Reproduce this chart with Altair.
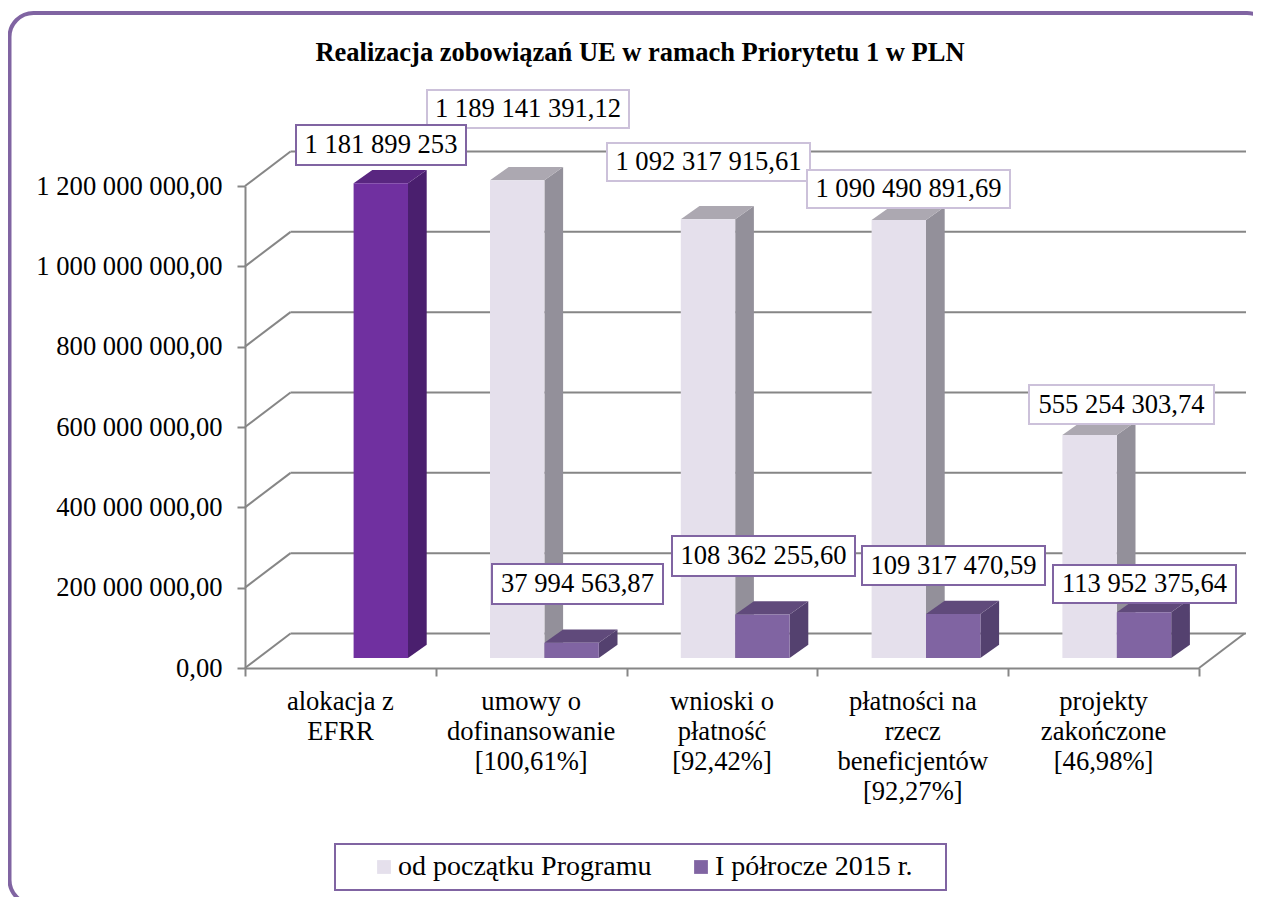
import altair as alt
import pandas as pd

# ---- chart values -------------------------------------------------------
categories = ["alokacja z\nEFRR", "umowy o\ndofinansowanie\n[100,61%]", "wnioski o\npłatność\n[92,42%]",
              "płatności na\nrzecz\nbeneficjentów\n[92,27%]", "projekty\nzakończone\n[46,98%]"]
series_total = [None, 1189141391.12, 1092317915.61, 1090490891.69, 555254303.74]
series_half = [1181899253, 37994563.87, 108362255.60, 109317470.59, 113952375.64]
labels_total = [None, "1 189 141 391,12", "1 092 317 915,61", "1 090 490 891,69", "555 254 303,74"]
labels_half = ["1 181 899 253", "37 994 563,87", "108 362 255,60", "109 317 470,59", "113 952 375,64"]
name_total = "od początku Programu"
name_half = "I półrocze 2015 r."
name_alloc = "alokacja"
y_ticks = [0, 200e6, 400e6, 600e6, 800e6, 1000e6, 1200e6]
title = "Realizacja zobowiązań UE w ramach Priorytetu 1 w PLN"

# ---- layout -------------------------------------------------------------
FONT = "Liberation Serif"
PL, PT = 245, 186          # page position of the plot's top-left corner
W, H = 954, 482
TOTAL_W, TOTAL_H = 1245, 889
CATS = len(categories)
YMAX = 1.2e9
PXX = CATS / W
PXY = YMAX / H
def xu(page_x): return (page_x - PL) * PXX
def yu(page_y): return (PT + H - page_y) * PXY

WALL_DX, WALL_DY = 45.5 * PXX, 34.5 * PXY
BASE_DX, BASE_DY = 13.2 * PXX, 10 * PXY
BAR_W = 54.4 * PXX
BAR_DX, BAR_DY = 18.7 * PXX, 13.3 * PXY
GRID = "#868686"
PURPLE = "#8064A2"

x_scale = alt.Scale(domain=[0, CATS], range=[0, W], nice=False, zero=False)
y_scale = alt.Scale(domain=[0, YMAX], range=[H, 0], nice=False, zero=False)
X = lambda f: alt.X(f, type="quantitative", scale=x_scale)
Y = lambda f: alt.Y(f, type="quantitative", scale=y_scale)

# ---- axes (first layer, so that its axis definitions are the ones used) ---
axes = alt.Chart(pd.DataFrame({"x": [0.0], "y": [0.0]})).mark_point(opacity=0).encode(
    x=alt.X("x:Q", scale=x_scale, axis=alt.Axis(
        values=list(range(CATS + 1)), labels=False, title=None, grid=False,
        domainColor=GRID, domainWidth=2, tickColor=GRID, tickWidth=2, tickSize=8)),
    y=alt.Y("y:Q", scale=y_scale, axis=alt.Axis(
        values=y_ticks, title=None, grid=False, domainColor=GRID, domainWidth=2,
        tickColor=GRID, tickWidth=2, tickSize=8, labelPadding=15, labelLimit=300,
        labelFont=FONT, labelFontSize=26.6, labelColor="black",
        labelExpr="replace(replace(replace(replace(format(datum.value, ',.2f'), ',', ' '), ',', ' '), ',', ' '), '.', ',')")),
)

# ---- frame --------------------------------------------------------------
frame = alt.Chart(pd.DataFrame({"a": [0]})).mark_rect(
    fill="transparent", stroke=PURPLE, strokeWidth=4, cornerRadius=24
).encode(x=alt.value(9.5 - PL), x2=alt.value(1271 - PL), y=alt.value(13 - PT), y2=alt.value(904 - PT))

# ---- walls and floor ----------------------------------------------------
wall_rows = []
for v in y_ticks:
    wall_rows.append(dict(x=0, y=v, x2=WALL_DX, y2=v + WALL_DY))
    wall_rows.append(dict(x=WALL_DX, y=v + WALL_DY, x2=xu(1246), y2=v + WALL_DY))
wall_rows.append(dict(x=CATS, y=0, x2=CATS + WALL_DX, y2=WALL_DY))
walls = alt.Chart(pd.DataFrame(wall_rows)).mark_rule(color=GRID, strokeWidth=2).encode(
    x=X("x"), x2="x2", y=Y("y"), y2="y2")

# ---- bars ---------------------------------------------------------------
bars = []
for i in range(CATS):
    x0 = i + 0.5 + BASE_DX
    if series_total[i] is not None:
        bars.append(dict(id=f"t{i}", s=name_total, x0=x0 - BAR_W, x1=x0, v=series_total[i],
                         top="#ACA8B1", side="#93909A"))
    if i == 0:
        bars.append(dict(id=f"h{i}", s=name_alloc, x0=x0, x1=x0 + BAR_W, v=series_half[i],
                         top="#592680", side="#4A1F6E"))
    else:
        bars.append(dict(id=f"h{i}", s=name_half, x0=x0, x1=x0 + BAR_W, v=series_half[i],
                         top="#604A7B", side="#54416F"))

side_rows, top_rows, front_rows = [], [], []
for b in bars:
    y0, y1 = BASE_DY, b["v"] + BASE_DY
    side_rows += [dict(id=b["id"], s=b["s"], x=b["x1"], y=y0, y2=y1, c=b["side"]),
                  dict(id=b["id"], s=b["s"], x=b["x1"] + BAR_DX, y=y0 + BAR_DY, y2=y1 + BAR_DY, c=b["side"])]
    top_rows += [dict(id=b["id"], s=b["s"], y=y1, x=b["x0"], x2=b["x1"], c=b["top"]),
                 dict(id=b["id"], s=b["s"], y=y1 + BAR_DY, x=b["x0"] + BAR_DX, x2=b["x1"] + BAR_DX, c=b["top"])]
    front_rows.append(dict(s=b["s"], x=b["x0"], x2=b["x1"], y=y0, y2=y1))
sides, tops, fronts = pd.DataFrame(side_rows), pd.DataFrame(top_rows), pd.DataFrame(front_rows)

def side_layer(df):
    return alt.Chart(df).mark_area(orient="vertical", opacity=1).encode(
        x=X("x"), y=Y("y"), y2="y2", detail="id:N", fill=alt.Fill("c:N", scale=None))
def top_layer(df):
    return alt.Chart(df).mark_area(orient="horizontal", opacity=1).encode(
        y=Y("y"), x=X("x"), x2="x2", detail="id:N", fill=alt.Fill("c:N", scale=None))

back = []
for nm in [[name_total], [name_half, name_alloc]]:
    back.append(side_layer(sides[sides.s.isin(nm)]))
    back.append(top_layer(tops[tops.s.isin(nm)]))

front = alt.Chart(fronts).mark_bar(opacity=1).encode(
    x=X("x"), x2="x2", y=Y("y"), y2="y2",
    color=alt.Color("s:N", scale=alt.Scale(domain=[name_total, name_half, name_alloc],
                                           range=["#E5E0EC", PURPLE, "#7030A0"]),
                    legend=alt.Legend(values=[name_total, name_half], title=None, orient="none",
                                      direction="horizontal", legendX=378 - PL - 8, legendY=853 - PT,
                                      symbolType="square", symbolSize=190, symbolStrokeWidth=0,
                                      labelFont=FONT, labelFontSize=28, labelColor="black",
                                      columnPadding=35, labelOffset=0, padding=0, labelLimit=400)))

# legend frame
legend_box = alt.Chart(pd.DataFrame({"a": [0]})).mark_rect(
    fill="white", stroke=PURPLE, strokeWidth=2
).encode(x=alt.value(335 - PL), x2=alt.value(946 - PL), y=alt.value(844 - PT), y2=alt.value(890 - PT))

# ---- data labels (page positions of the hand-placed boxes) --------------
boxes = [
    (labels_total[1], 427, 629, 90, 128, "#CCC1DA"),
    (labels_total[2], 607, 810, 143, 181, "#CCC1DA"),
    (labels_total[3], 807, 1010, 170, 208, "#CCC1DA"),
    (labels_total[4], 1029, 1214, 385, 424, "#CCC1DA"),
    (labels_half[0], 296, 466, 125, 165, PURPLE),
    (labels_half[1], 492, 663, 564, 604, PURPLE),
    (labels_half[2], 672, 855, 536, 576, PURPLE),
    (labels_half[3], 862, 1045, 546, 585, PURPLE),
    (labels_half[4], 1053, 1236, 565, 603, PURPLE),
]
label_df = pd.DataFrame([dict(t=t, x=xu(a), x2=xu(b), y=yu(c), y2=yu(d), xm=xu((a + b) / 2), ym=yu((c + d) / 2), st=s)
                         for t, a, b, c, d, s in boxes])
label_rect = alt.Chart(label_df).mark_rect(fill="white", strokeWidth=2).encode(
    x=X("x"), x2="x2", y=Y("y"), y2="y2", stroke=alt.Stroke("st:N", scale=None))
label_text = alt.Chart(label_df).mark_text(font=FONT, fontSize=26.6, color="black", baseline="middle", align="center").encode(
    x=X("xm"), y=Y("ym"), text="t:N")

# ---- category labels and title ------------------------------------------
cat_df = pd.DataFrame(dict(t=categories, x=[i + 0.5 for i in range(CATS)]))
cat_text = alt.Chart(cat_df).mark_text(font=FONT, fontSize=26.6, color="black", baseline="alphabetic", align="center",
                                       lineBreak="\n", lineHeight=30).encode(
    x=X("x"), y=alt.value(710 - PT), text="t:N")

title_text = alt.Chart(pd.DataFrame({"t": [title]})).mark_text(
    font=FONT, fontSize=26.5, fontWeight="bold", color="black", align="center", baseline="middle"
).encode(x=alt.value(640 - PL), y=alt.value(53 - PT), text="t:N")

chart = alt.layer(axes, frame, walls, *back, front, legend_box, label_rect, label_text, cat_text, title_text).properties(
    width=W, height=H,
    padding={"left": PL - 8, "top": PT - 8, "right": TOTAL_W - (PL - 8) - W, "bottom": TOTAL_H - (PT - 8) - H},
    autosize=alt.AutoSizeParams(type="none"),
    background="white",
).configure_view(stroke=None)

chart.save("out.html", embed_options={"renderer": "svg", "actions": False})
